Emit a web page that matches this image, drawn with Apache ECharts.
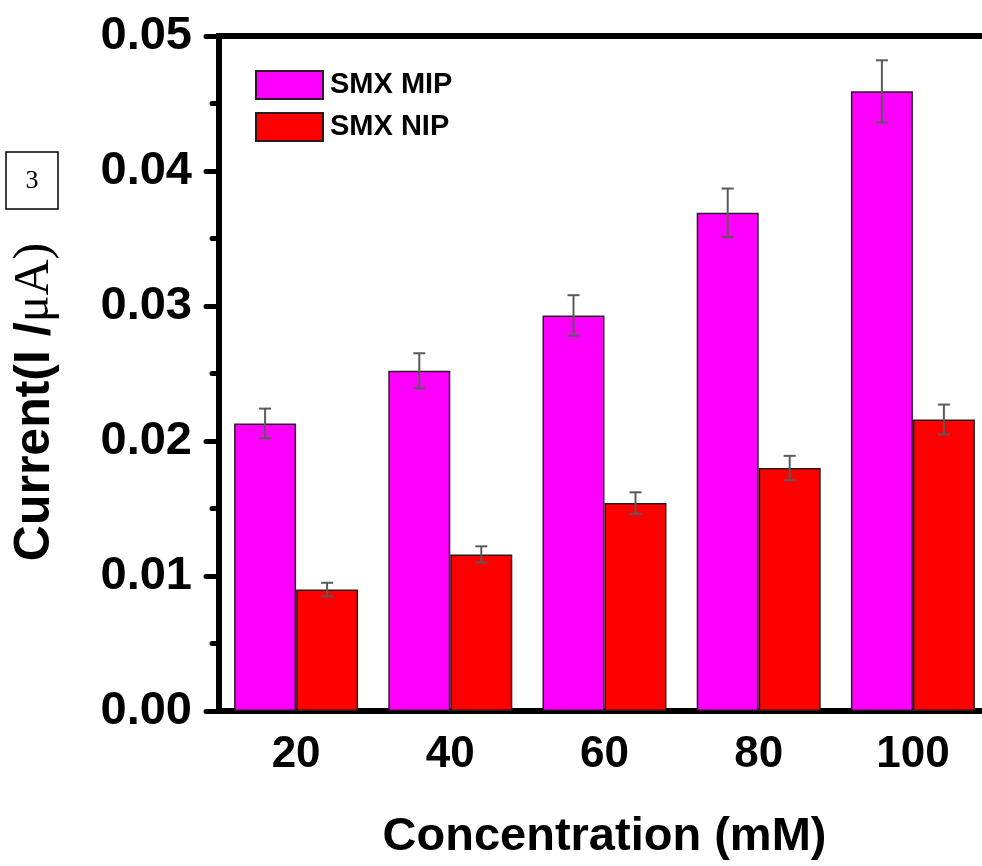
<!DOCTYPE html>
<html>
<head>
<meta charset="utf-8">
<title>SMX MIP / NIP current vs concentration</title>
<script src="https://cdn.jsdelivr.net/npm/echarts@6/dist/echarts.min.js"></script>
<style>
  html, body { margin: 0; padding: 0; background: #ffffff; }
  #chart { width: 982px; height: 866px; }
</style>
</head>
<body>
<div id="chart"></div>
<script>
// Concentration groups (mM)
const categories = ['20', '40', '60', '80', '100'];

// Peak current of the imprinted electrode and its error (µA)
const mipValues = [0.0213, 0.0252, 0.0293, 0.0369, 0.0459];
const mipErrors = [0.0011, 0.0013, 0.0015, 0.0018, 0.0023];

// Peak current of the non-imprinted electrode and its error (µA)
const nipValues = [0.0090, 0.0116, 0.0154, 0.0180, 0.0216];
const nipErrors = [0.0005, 0.0006, 0.0008, 0.0009, 0.0011];

// Y axis ticks
const yMin = 0, yMax = 0.05, yStep = 0.01;

const BAR_W = 62;
const FONT = '"Liberation Sans", Arial, Helvetica, sans-serif';

function errorData(values, errors) {
  return values.map((v, i) => [i, v - errors[i], v + errors[i]]);
}

function errorBarRenderer(offset) {
  return function (params, api) {
    const i = api.value(0);
    const lo = api.coord([i, api.value(1)]);
    const hi = api.coord([i, api.value(2)]);
    const x = lo[0] + offset;
    const cap = 6;
    const style = { stroke: '#5a5a5a', lineWidth: 2, fill: null };
    return {
      type: 'group',
      children: [
        { type: 'line', shape: { x1: x, y1: hi[1], x2: x, y2: lo[1] }, style },
        { type: 'line', shape: { x1: x - cap, y1: hi[1], x2: x + cap, y2: hi[1] }, style },
        { type: 'line', shape: { x1: x - cap, y1: lo[1], x2: x + cap, y2: lo[1] }, style }
      ]
    };
  };
}

const chart = echarts.init(document.getElementById('chart'), null, { renderer: 'canvas' });

chart.setOption({
  animation: false,
  backgroundColor: '#ffffff',
  grid: {
    left: 219, top: 36, width: 771, height: 675,
    outerBoundsMode: 'none',
    containLabel: false,
    show: true, borderWidth: 6, borderColor: '#000', backgroundColor: 'transparent'
  },
  legend: {
    orient: 'vertical',
    left: 255, top: 70, padding: 0,
    itemWidth: 67, itemHeight: 28, itemGap: 12,
    icon: 'rect',
    textStyle: { fontFamily: FONT, fontWeight: 'bold', fontSize: 29, color: '#000', lineHeight: 28, padding: [0, 0, 0, 2] },
    data: ['SMX MIP', 'SMX NIP']
  },
  xAxis: [
    {
      type: 'category',
      position: 'bottom',
      data: categories,
      axisLine: { lineStyle: { color: '#000', width: 6 } },
      axisTick: { alignWithLabel: true, length: 12, lineStyle: { color: '#000', width: 5, cap: 'round' } },
      axisLabel: { fontFamily: FONT, fontWeight: 'bold', fontSize: 44, color: '#000', margin: 22 },
      name: 'Concentration (mM)',
      nameLocation: 'middle',
      nameGap: 103,
      nameTextStyle: { fontFamily: FONT, fontWeight: 'bold', fontSize: 47, color: '#000' },
      splitLine: { show: false }
    },
    {
      // boundary ticks between groups
      type: 'category',
      position: 'bottom',
      data: categories,
      axisLine: { show: false },
      axisTick: { length: 8, lineStyle: { color: '#000', width: 5, cap: 'round' } },
      axisLabel: { show: false },
      splitLine: { show: false }
    }
  ],
  yAxis: {
    type: 'value',
    min: yMin, max: yMax, interval: yStep,
    axisLine: { show: true, lineStyle: { color: '#000', width: 6 } },
    axisTick: { show: true, length: 13, lineStyle: { color: '#000', width: 5, cap: 'round' } },
    minorTick: { show: true, splitNumber: 2, length: 7, lineStyle: { color: '#000', width: 5, cap: 'round' } },
    axisLabel: {
      fontFamily: FONT, fontWeight: 'bold', fontSize: 47, color: '#000', margin: 27,
      formatter: v => v.toFixed(2)
    },
    splitLine: { show: false }
  },
  series: [
    {
      name: 'SMX MIP',
      type: 'bar',
      data: mipValues,
      barWidth: BAR_W,
      barGap: '0%',
      itemStyle: { color: '#ff00ff', borderColor: '#2a1a2a', borderWidth: 1.5 }
    },
    {
      name: 'SMX NIP',
      type: 'bar',
      data: nipValues,
      barWidth: BAR_W,
      barGap: '0%',
      itemStyle: { color: '#ff0000', borderColor: '#2a1a1a', borderWidth: 1.5 }
    },
    {
      name: 'MIP error',
      type: 'custom',
      z: 5,
      silent: true,
      data: errorData(mipValues, mipErrors),
      encode: { x: 0, y: [1, 2] },
      renderItem: errorBarRenderer(-BAR_W / 2)
    },
    {
      name: 'NIP error',
      type: 'custom',
      z: 5,
      silent: true,
      data: errorData(nipValues, nipErrors),
      encode: { x: 0, y: [1, 2] },
      renderItem: errorBarRenderer(BAR_W / 2)
    }
  ],
  graphic: [
    {
      type: 'rect',
      shape: { x: 6, y: 152, width: 52, height: 57 },
      style: { fill: '#fff', stroke: '#000', lineWidth: 1.5 }
    },
    {
      type: 'text',
      x: 32, y: 181,
      style: {
        text: '3', fill: '#000',
        font: '26px "Liberation Serif", "Times New Roman", serif',
        align: 'center', verticalAlign: 'middle'
      }
    },
    {
      type: 'text',
      x: 35, y: 402,
      rotation: Math.PI / 2,
      style: {
        text: '{a|Current(I /}{b|μA)}',
        align: 'center', verticalAlign: 'middle',
        rich: {
          a: { fontFamily: FONT, fontWeight: 'bold', fontSize: 50, fill: '#000', color: '#000' },
          b: { fontFamily: '"Liberation Serif", "Times New Roman", serif', fontSize: 50, fill: '#000', color: '#000' }
        }
      }
    }
  ]
});
</script>
</body>
</html>
